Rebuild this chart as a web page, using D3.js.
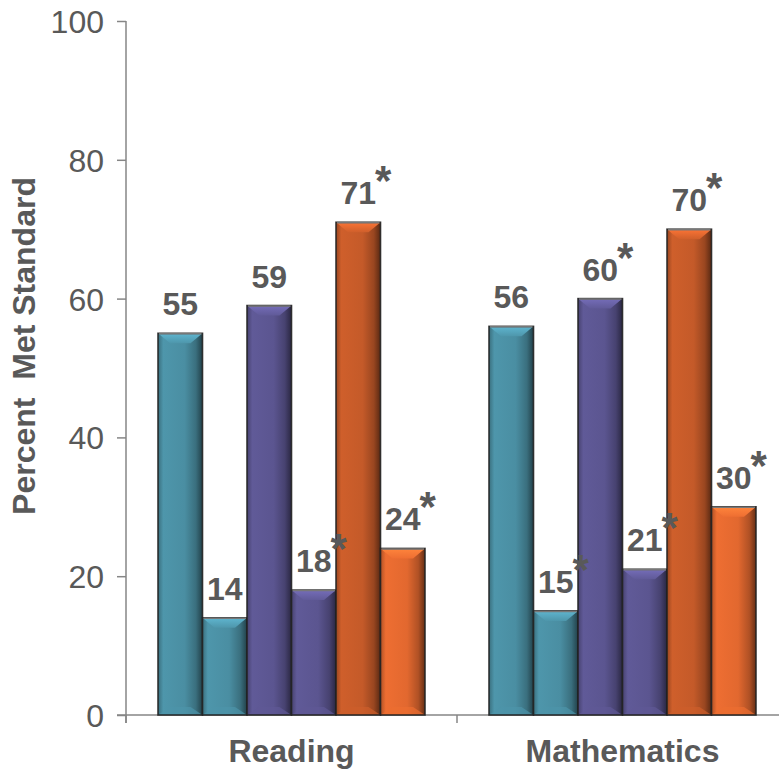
<!DOCTYPE html>
<html><head><meta charset="utf-8">
<script src="https://cdn.jsdelivr.net/npm/d3@7"></script>
<style>
html,body{margin:0;padding:0;background:#fff;}
svg{display:block;font-family:"Liberation Sans",Arial,sans-serif;}
</style></head>
<body>
<svg id="chart" width="779" height="769"></svg>
<script>
const groups = ["Reading", "Mathematics"];
const seriesKeys = ["s1", "s2", "s3", "s4", "s5", "s6"];
const readingValues = [55, 14, 59, 18, 71, 24];
const mathValues = [56, 15, 60, 21, 70, 30];
const readingStars = [false, false, false, true, true, true];
const mathStars = [false, true, true, true, true, true];
const seriesColors = ["#4a8ea2", "#4a8ea2", "#5b5590", "#5b5590", "#c45a29", "#e2682f"];
const yTicks = [0, 20, 40, 60, 80, 100];
const yTitle = "Percent  Met Standard";

const values = [readingValues, mathValues];
const stars = [readingStars, mathStars];

const svg = d3.select("#chart");
const y = d3.scaleLinear().domain([0, 100]).range([715, 21]);
const x0 = d3.scaleBand().domain(groups).range([126, 788]);
const x1 = d3.scaleBand().domain(seriesKeys).range([32, 299]);
const axisColor = "#868686";
const textColor = "#595959";

// gradients
const defs = svg.append("defs");
seriesColors.forEach((c, i) => {
  const base = d3.color(c);
  const g = defs.append("linearGradient").attr("id", "g" + i).attr("x1", 0).attr("x2", 1).attr("y1", 0).attr("y2", 0);
  g.append("stop").attr("offset", "0%").attr("stop-color", base.darker(0.7));
  g.append("stop").attr("offset", "12%").attr("stop-color", base.brighter(0.15));
  g.append("stop").attr("offset", "60%").attr("stop-color", base);
  g.append("stop").attr("offset", "85%").attr("stop-color", base.darker(0.7));
  g.append("stop").attr("offset", "100%").attr("stop-color", base.darker(2.2));
  const t = defs.append("linearGradient").attr("id", "t" + i).attr("x1", 0).attr("x2", 0).attr("y1", 0).attr("y2", 1);
  t.append("stop").attr("offset", "0%").attr("stop-color", base.brighter(0.7));
  t.append("stop").attr("offset", "100%").attr("stop-color", base.brighter(0.15));
});

// y axis
const yAxis = d3.axisLeft(y).tickValues(yTicks).tickSize(9).tickSizeOuter(0).tickPadding(13);
const ya = svg.append("g").attr("transform", "translate(126,0)").call(yAxis);
ya.select(".domain").attr("stroke", axisColor).attr("stroke-width", 1.5).attr("d", "M0," + y(100) + "V723");
ya.selectAll(".tick line").attr("stroke", axisColor).attr("stroke-width", 1.5);
ya.selectAll(".tick text").attr("fill", textColor).attr("font-size", 32).attr("font-family", "Liberation Sans, Arial, sans-serif").attr("dy", "0.36em");

// x axis line + ticks
svg.append("line").attr("x1", 117).attr("x2", 779).attr("y1", y(0)).attr("y2", y(0)).attr("stroke", axisColor).attr("stroke-width", 1.5);
const bounds = [x0("Reading"), x0("Mathematics")];
svg.selectAll(".xt").data(bounds).join("line").attr("class", "xt")
  .attr("x1", d => d).attr("x2", d => d).attr("y1", y(0)).attr("y2", 723)
  .attr("stroke", axisColor).attr("stroke-width", 1.5);

const barLayer = svg.append("g");
const labelLayer = svg.append("g");

// bars
groups.forEach((grp, gi) => {
  const gEl = barLayer.append("g").attr("transform", "translate(" + x0(grp) + ",0)");
  const lEl = labelLayer.append("g").attr("transform", "translate(" + x0(grp) + ",0)");
  values[gi].forEach((v, i) => {
    const bx = x1(seriesKeys[i]);
    const bw = x1.bandwidth();
    const top = y(v);
    const bot = y(0);
    const bar = gEl.append("g");
    bar.append("rect").attr("x", bx).attr("y", top).attr("width", bw).attr("height", bot - top)
      .attr("fill", "url(#g" + i + ")");
    // top bevel
    const bv = 10;
    bar.append("path")
      .attr("d", `M${bx},${top}H${bx + bw}L${bx + bw - 12},${top + bv}H${bx + 12}Z`)
      .attr("fill", "url(#t" + i + ")");
    // bottom bevel
    bar.append("path")
      .attr("d", `M${bx},${bot}H${bx + bw}L${bx + bw - 12},${bot - 8}H${bx + 12}Z`)
      .attr("fill", d3.color(seriesColors[i]).brighter(0.12)).attr("opacity", 0.7);
    bar.append("rect").attr("x", bx).attr("y", top).attr("width", bw).attr("height", bot - top)
      .attr("fill", "none").attr("stroke", "#222").attr("stroke-width", 1.6).attr("stroke-opacity", 0.9);
    bar.append("line").attr("x1", bx + 1).attr("x2", bx + bw - 1).attr("y1", top + 0.5).attr("y2", top + 0.5)
      .attr("stroke", "#777").attr("stroke-width", 1.5);

    const cx = bx + bw / 2;
    const lab = lEl.append("text").attr("x", cx).attr("y", top - 18)
      .attr("font-size", 32).attr("font-weight", "bold").attr("fill", textColor);
    const num = lab.append("tspan").text(v);
    const w = num.node().getComputedTextLength();
    lab.attr("x", cx - w / 2);
    if (stars[gi][i]) {
      lab.append("tspan").attr("dx", -1).attr("dy", -9).attr("font-size", 42).text("*");
    }
  });
});

// x labels
svg.selectAll(".xl").data(groups).join("text").attr("class", "xl")
  .attr("x", d => x0(d) + 32 + 267 / 2).attr("y", 762)
  .attr("text-anchor", "middle").attr("font-size", 32).attr("font-weight", "bold")
  .attr("fill", textColor).text(d => d);

// y title
svg.append("text").attr("transform", "translate(35,346) rotate(-90)")
  .attr("text-anchor", "middle").attr("font-size", 32).attr("font-weight", "bold")
  .attr("fill", textColor).style("white-space", "pre").text(yTitle);
</script>
</body></html>
